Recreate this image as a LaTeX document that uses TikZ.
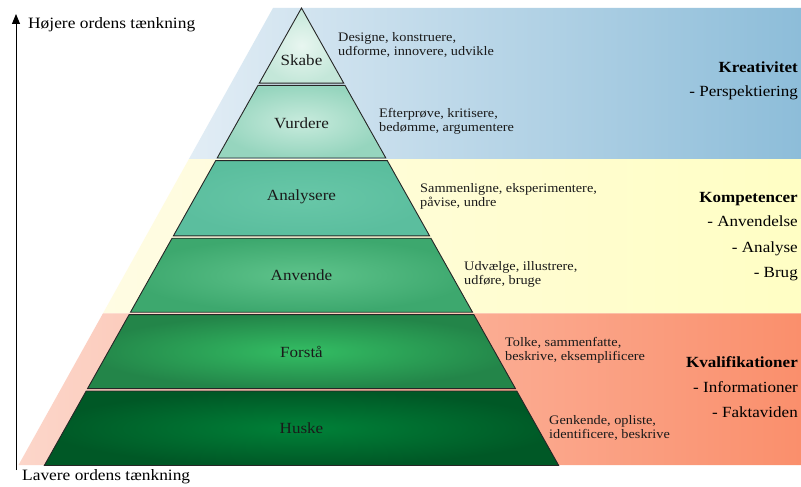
\documentclass[tikz,border=0pt]{standalone}
\usepackage{fontspec}
\setmainfont{Liberation Serif}[FakeStretch=1.1]
\usetikzlibrary{arrows.meta}

\definecolor{bandBlueL}{HTML}{E2EDF5}
\definecolor{bandBlueR}{HTML}{8DBDD9}
\definecolor{bandYelL}{HTML}{FFFCE3}
\definecolor{bandYelR}{HTML}{FFFEC4}
\definecolor{bandRedL}{HTML}{FCD6CA}
\definecolor{bandRedR}{HTML}{FA8F6C}
\definecolor{t1in}{HTML}{E8F6F0}
\definecolor{t1out}{HTML}{C4E7D9}
\definecolor{t2in}{HTML}{C8EBDD}
\definecolor{t2out}{HTML}{96D5BE}
\definecolor{t3in}{HTML}{68C7A8}
\definecolor{t3out}{HTML}{5BBE9E}
\definecolor{t4in}{HTML}{5EC38B}
\definecolor{t4out}{HTML}{3DA86E}
\definecolor{t5in}{HTML}{33BD63}
\definecolor{t5out}{HTML}{238549}
\definecolor{t6in}{HTML}{008138}
\definecolor{t6out}{HTML}{005826}
\definecolor{inktext}{HTML}{1A1A1A}

\newcommand\pyrtier[4]{%
  \shadedraw[tierline, inner color=#3, outer color=#4]
    ({301.5-0.5622*(#1-8)},#1) -- ({301.5+0.5622*(#1-8)},#1) --
    ({301.5+0.5622*(#2-8)},#2) -- ({301.5-0.5622*(#2-8)},#2) -- cycle;}
\newcommand\bgband[4]{%
  \shade[left color=#3, right color=#4]
    ({273-0.5568*(#1-8)},#1) -- (801,#1) -- (801,#2) --
    ({273-0.5568*(#2-8)},#2) -- cycle;}

\begin{document}
\begin{tikzpicture}[x=1pt,y=-1pt,
  tierline/.style={draw=black!85, line width=0.9pt, line join=miter},
  tiername/.style={inner sep=0pt, text=inktext, font=\fontsize{15.5}{18}\selectfont},
  desc/.style={anchor=west, inner sep=0pt, align=left, text=inktext, font=\fontsize{13}{14}\selectfont},
  rlabel/.style={anchor=east, inner sep=0pt, text=black, text height=1.5ex, text depth=.3ex, font=\fontsize{15.5}{18}\selectfont},
  axislabel/.style={anchor=west, inner sep=0pt, text=black, text height=1.5ex, text depth=.3ex, font=\fontsize{15.8}{18}\selectfont}]
\useasboundingbox (0,0) rectangle (801,487);
\fill[white] (0,0) rectangle (801,487);

% background bands
\bgband{8}{159}{bandBlueL}{bandBlueR}
\bgband{159}{313.3}{bandYelL}{bandYelR}
\bgband{313.3}{465}{bandRedL}{bandRedR}

% pyramid tiers
\pyrtier{8}{83.2}{t1in}{t1out}
\pyrtier{85.4}{158}{t2in}{t2out}
\pyrtier{160.6}{235.8}{t3in}{t3out}
\pyrtier{238.2}{312.2}{t4in}{t4out}
\pyrtier{314.6}{388.6}{t5in}{t5out}
\pyrtier{391}{465.5}{t6in}{t6out}

% tier names
\node[tiername] (skabe) at (301.5,60) {Skabe};
\node[tiername] (vurdere) at (301.5,123) {Vurdere};
\node[tiername] (analysere) at (301.5,197) {Analysere};
\node[tiername] (anvende) at (301.5,275) {Anvende};
\node[tiername] (forsta) at (301.5,352) {Forstå};
\node[tiername] (huske) at (301.5,428) {Huske};

% descriptions
\node[desc] (dskabe) at (338,45) {Designe, konstruere,\\udforme, innovere, udvikle};
\node[desc] (dvurdere) at (379,121.5) {Efterprøve, kritisere,\\bedømme, argumentere};
\node[desc] (danalysere) at (420,196) {Sammenligne, eksperimentere,\\påvise, undre};
\node[desc] (danvende) at (464,274) {Udvælge, illustrere,\\udføre, bruge};
\node[desc] (dforsta) at (505,350) {Tolke, sammenfatte,\\beskrive, eksemplificere};
\node[desc] (dhuske) at (549,428) {Genkende, opliste,\\identificere, beskrive};

% right labels
\node[rlabel] (kreativitet) at (798,70) {\bfseries Kreativitet};
\node[rlabel] (perspekt) at (798,94) {- Perspektiering};
\node[rlabel] (kompetencer) at (798,200) {\bfseries Kompetencer};
\node[rlabel] (anvendelse) at (798,224) {- Anvendelse};
\node[rlabel] (analyse) at (798,250) {- Analyse};
\node[rlabel] (brug) at (798,275) {- Brug};
\node[rlabel] (kvalifik) at (798,365) {\bfseries Kvalifikationer};
\node[rlabel] (informationer) at (798,390) {- Informationer};
\node[rlabel] (faktaviden) at (798,415) {- Faktaviden};

% axis
\coordinate (axisbot) at (16,470);
\coordinate (axistop) at (16,14);
\draw[line width=1pt, -{Triangle[length=10pt,width=8pt]}] (axisbot) -- (axistop);
\node[axislabel] (hojere) at (28,26) {Højere ordens tænkning};
\node[axislabel] (lavere) at (22,478) {Lavere ordens tænkning};
\end{tikzpicture}
\end{document}
